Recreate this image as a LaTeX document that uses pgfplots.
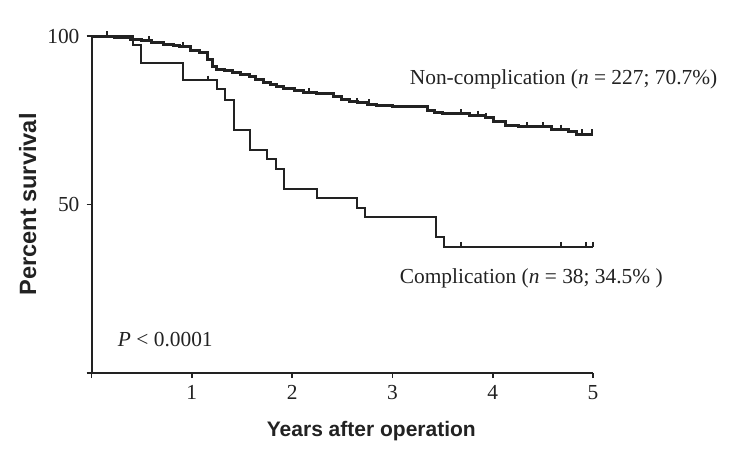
\documentclass[border=0pt]{standalone}
\usepackage{fontspec}
\setmainfont{Liberation Serif}
\newfontfamily\hel{Liberation Sans}
\usepackage{pgfplots}
\pgfplotsset{compat=1.18}
\definecolor{ink}{HTML}{222222}

\begin{document}
\begin{tikzpicture}
\begin{axis}[
  scale only axis, width=250.75pt, height=168.5pt,
  xmin=0, xmax=5, ymin=0, ymax=100,
  axis x line=bottom, axis y line=left,
  axis line style={-, line width=1pt, ink},
  xtick={0,1,2,3,4,5}, xticklabels={,1,2,3,4,5},
  ytick={0,50,100}, yticklabels={,50,100},
  tick align=outside, major tick length=2.5pt,
  tick style={line width=0.8pt, ink},
  ticklabel style={font=\fontsize{10.7}{12}\selectfont, text=ink},
  /pgf/number format/assume math mode=true,
  xlabel={Years after operation}, ylabel={Percent survival},
  xlabel style={font=\hel\bfseries\fontsize{10.5}{12}\selectfont, text=ink,
    at={(axis description cs:0.558,-0.187)}, anchor=base},
  ylabel style={font=\hel\bfseries\fontsize{11.8}{13}\selectfont, text=ink,
    at={(axis description cs:-0.127,0.5)}, anchor=center},
  clip=false,
]
% Non-complication
\addplot[const plot, line width=1.5pt, ink] coordinates {
(0,100) (0.23,99.6) (0.39,99.0) (0.5,98.6) (0.6,98.2) (0.72,97.6) (0.82,97.2)
(0.88,96.8) (0.99,95.8) (1.08,95.2) (1.16,92.9) (1.21,90.9) (1.25,90.2)
(1.33,89.7) (1.41,89.2) (1.49,88.7) (1.58,87.9) (1.64,87.1) (1.71,86.1)
(1.78,85.5) (1.84,84.9) (1.91,84.5) (2.02,83.8) (2.11,83.2) (2.24,82.8)
(2.41,82.0) (2.49,81.2) (2.57,80.7) (2.65,80.2) (2.75,79.8) (2.84,79.3)
(3.0,79.0) (3.35,78.0) (3.42,77.4) (3.5,76.9) (3.77,76.4) (3.93,75.8)
(4.01,74.6) (4.13,73.5) (4.26,73.0) (4.59,72.3) (4.76,71.6) (4.84,70.9) (5.0,70.9)
};
\addplot[only marks, mark=|, mark size=1.2pt, mark options={line width=1pt, ink, yshift=1.2pt}] coordinates {
(0.15,100) (0.57,98.6) (0.91,96.8) (2.17,83.2) (2.65,80.2) (2.77,79.8)
(3.68,76.9) (3.85,76.4) (3.93,75.8) (4.34,73.0) (4.5,73.0) (4.68,72.3)
(4.89,70.9) (4.99,70.9)
};
% Complication
\addplot[const plot, line width=1pt, ink] coordinates {
(0,100) (0.41,97.4) (0.49,92.1) (0.91,86.8) (1.25,84.2) (1.33,81.0)
(1.42,72.1) (1.58,66.2) (1.75,63.4) (1.84,60.5) (1.92,54.6) (2.25,51.8)
(2.65,49.1) (2.73,46.2) (3.43,40.3) (3.51,37.5) (5.0,37.5)
};
\addplot[only marks, mark=|, mark size=1.2pt, mark options={line width=0.9pt, ink, yshift=1.2pt}] coordinates {
(1.16,86.8) (3.68,37.5) (4.68,37.5) (4.93,37.5) (5.0,37.5)
};
\node[anchor=base west, inner sep=0pt, font=\fontsize{10.7}{12}\selectfont, text=ink]
  at (axis cs:3.17,85.5) {Non-complication (\textit{n} = 227; 70.7\%)};
\node[anchor=base west, inner sep=0pt, font=\fontsize{10.7}{12}\selectfont, text=ink]
  at (axis cs:3.07,26.6) {Complication (\textit{n} = 38; 34.5\% )};
\node[anchor=base west, inner sep=0pt, font=\fontsize{10.7}{12}\selectfont, text=ink]
  at (axis cs:0.26,8.0) {\textit{P} < 0.0001};
\coordinate (bl) at (rel axis cs:0,0);
\end{axis}
\pgfresetboundingbox
\path[use as bounding box] (bl) ++(-45.75pt,-42pt) rectangle ++(371pt,228.5pt);
\end{tikzpicture}
\end{document}
